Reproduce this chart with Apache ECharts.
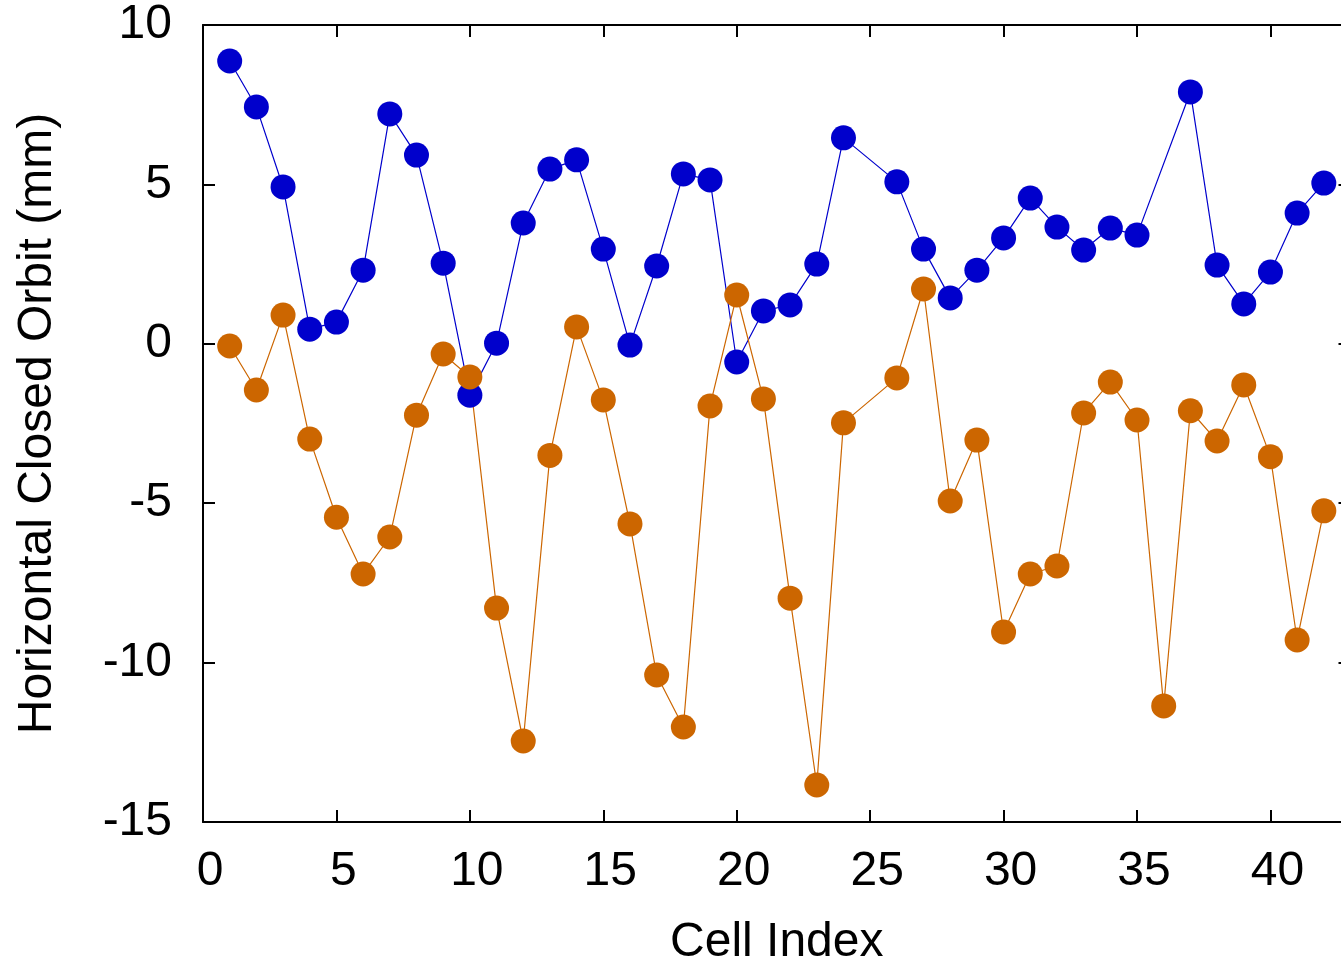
<!DOCTYPE html>
<html>
<head>
<meta charset="utf-8">
<script src="https://cdn.jsdelivr.net/npm/echarts@6/dist/echarts.min.js"></script>
<style>html,body{margin:0;padding:0;background:#fff;}#c{width:1341px;height:963px;}</style>
</head>
<body>
<div id="c"></div>
<script>
const blueX = [1,2,3,4,5,6,7,8,9,10,11,12,13,14,15,16,17,18,19,20,21,22,23,24,26,27,28,29,30,31,32,33,34,35,37,38,39,40,41,42];
const blueY = [8.87,7.43,4.92,0.46,0.68,2.31,7.21,5.92,2.53,-1.61,0.02,3.79,5.48,5.77,2.97,-0.04,2.44,5.33,5.14,-0.57,1.03,1.22,2.5,6.46,5.08,2.97,1.44,2.31,3.32,4.57,3.66,2.94,3.63,3.41,7.9,2.47,1.25,2.25,4.1,5.04];
const orangeX = [1,2,3,4,5,6,7,8,9,10,11,12,13,14,15,16,17,18,19,20,21,22,23,24,26,27,28,29,30,31,32,33,34,35,36,37,38,39,40,41,42];
const orangeY = [-0.07,-1.45,0.9,-2.99,-5.44,-7.22,-6.06,-2.24,-0.32,-1.04,-8.29,-12.46,-3.5,0.53,-1.76,-5.65,-10.39,-12.02,-1.95,1.53,-1.73,-7.98,-13.84,-2.48,-1.07,1.72,-4.93,-3.02,-9.04,-7.22,-6.97,-2.17,-1.2,-2.39,-11.36,-2.1,-3.05,-1.29,-3.54,-9.29,-5.24];
const xTickLabels = ['0','5','10','15','20','25','30','35','40'];

const FONT = 'Liberation Sans, Arial, Helvetica, sans-serif';
const pair = (xs, ys) => xs.map((x, i) => [x, ys[i]]);
const lineStyle = {color: '#000', width: 2};

const chart = echarts.init(document.getElementById('c'), null, {renderer: 'canvas'});
chart.setOption({
  animation: false,
  backgroundColor: '#fff',
  grid: {left: 203, right: -9.5, top: 25, bottom: 141, containLabel: false, outerBoundsMode: 'none'},
  xAxis: [{
    type: 'value', min: 0, max: 43, interval: 5, position: 'bottom',
    name: 'Cell Index', nameLocation: 'middle', nameGap: 97,
    nameTextStyle: {fontFamily: FONT, fontSize: 48, color: '#000'},
    axisLine: {show: true, onZero: false, lineStyle: lineStyle},
    axisTick: {show: true, inside: true, length: 12, lineStyle: {color: '#000', width: 2}},
    axisLabel: {fontFamily: FONT, fontSize: 48, color: '#000', margin: 26, padding: [0, 0, 0, 14],
      showMaxLabel: false,
      formatter: v => xTickLabels.includes(String(v)) ? String(v) : ''},
    splitLine: {show: false}
  }, {
    type: 'value', min: 0, max: 43, interval: 5, position: 'top',
    axisLine: {show: true, onZero: false, lineStyle: lineStyle},
    axisTick: {show: true, inside: true, length: 12, lineStyle: {color: '#000', width: 2}},
    axisLabel: {show: false}, splitLine: {show: false}
  }],
  yAxis: [{
    type: 'value', min: -15, max: 10, interval: 5, position: 'left',
    name: 'Horizontal Closed Orbit (mm)', nameLocation: 'middle', nameGap: 141,
    nameTextStyle: {fontFamily: FONT, fontSize: 48, color: '#000'},
    axisLine: {show: true, onZero: false, lineStyle: lineStyle},
    axisTick: {show: true, inside: true, length: 12, lineStyle: {color: '#000', width: 2}},
    axisLabel: {fontFamily: FONT, fontSize: 48, color: '#000', margin: 31, padding: [4, 0, 0, 0]},
    splitLine: {show: false}
  }, {
    type: 'value', min: -15, max: 10, interval: 5, position: 'right',
    axisLine: {show: true, onZero: false, lineStyle: lineStyle},
    axisTick: {show: true, inside: true, length: 12, lineStyle: {color: '#000', width: 2}},
    axisLabel: {show: false}, splitLine: {show: false}
  }],
  series: [{
    type: 'line', data: pair(blueX, blueY), symbol: 'circle', symbolSize: 25,
    itemStyle: {color: '#0000cc'}, lineStyle: {color: '#0000cc', width: 1.2}
  }, {
    type: 'line', data: pair(orangeX, orangeY), symbol: 'circle', symbolSize: 25,
    itemStyle: {color: '#cc6600'}, lineStyle: {color: '#cc6600', width: 1.2}
  }]
});
</script>
</body>
</html>
